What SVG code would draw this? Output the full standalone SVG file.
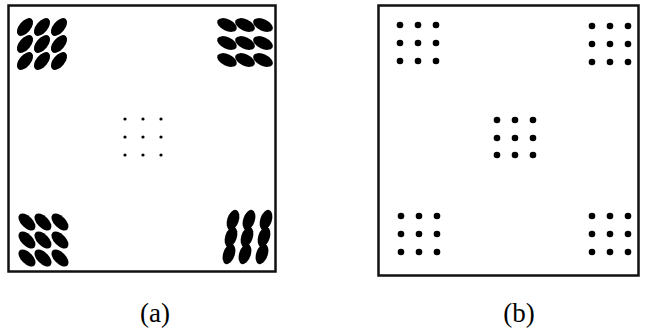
<svg xmlns="http://www.w3.org/2000/svg" width="646" height="333" viewBox="0 0 646 333">
<style>
.frame{fill:none;stroke:#111;stroke-width:2.5}
.e{fill:#000}
.s{fill:#000}
.b{fill:#000}
.lbl{font-family:"Liberation Serif",serif;font-size:27px;fill:#000}
</style>
<defs>
<ellipse id="el" cx="0" cy="0" rx="10.5" ry="5.8"/>
</defs>
<rect width="646" height="333" fill="#fff"/>
<g id="panel-a">
<rect class="frame" x="8.5" y="5.5" width="267" height="266"/>
<g id="a-tl" class="e">
<g transform="translate(25,27) rotate(-50)"><use href="#el"/></g>
<g transform="translate(42,27) rotate(-50)"><use href="#el"/></g>
<g transform="translate(59,27) rotate(-50)"><use href="#el"/></g>
<g transform="translate(25,44) rotate(-50)"><use href="#el"/></g>
<g transform="translate(42,44) rotate(-50)"><use href="#el"/></g>
<g transform="translate(59,44) rotate(-50)"><use href="#el"/></g>
<g transform="translate(25,61) rotate(-50)"><use href="#el"/></g>
<g transform="translate(42,61) rotate(-50)"><use href="#el"/></g>
<g transform="translate(59,61) rotate(-50)"><use href="#el"/></g>
</g>
<g id="a-tr" class="e">
<g transform="translate(227,25) rotate(25)"><use href="#el"/></g>
<g transform="translate(245,25) rotate(25)"><use href="#el"/></g>
<g transform="translate(263,25) rotate(25)"><use href="#el"/></g>
<g transform="translate(227,43) rotate(25)"><use href="#el"/></g>
<g transform="translate(245,43) rotate(25)"><use href="#el"/></g>
<g transform="translate(263,43) rotate(25)"><use href="#el"/></g>
<g transform="translate(227,60) rotate(25)"><use href="#el"/></g>
<g transform="translate(245,60) rotate(25)"><use href="#el"/></g>
<g transform="translate(263,60) rotate(25)"><use href="#el"/></g>
</g>
<g id="a-bl" class="e">
<g transform="translate(27,222) rotate(45)"><use href="#el"/></g>
<g transform="translate(43,222) rotate(45)"><use href="#el"/></g>
<g transform="translate(60,222) rotate(45)"><use href="#el"/></g>
<g transform="translate(27,240) rotate(45)"><use href="#el"/></g>
<g transform="translate(43,240) rotate(45)"><use href="#el"/></g>
<g transform="translate(60,240) rotate(45)"><use href="#el"/></g>
<g transform="translate(27,258) rotate(45)"><use href="#el"/></g>
<g transform="translate(43,258) rotate(45)"><use href="#el"/></g>
<g transform="translate(60,258) rotate(45)"><use href="#el"/></g>
</g>
<g id="a-br" class="e">
<g transform="translate(233,220) rotate(-72)"><use href="#el"/></g>
<g transform="translate(249,220) rotate(-72)"><use href="#el"/></g>
<g transform="translate(266,220) rotate(-72)"><use href="#el"/></g>
<g transform="translate(231,237) rotate(-72)"><use href="#el"/></g>
<g transform="translate(247,237) rotate(-72)"><use href="#el"/></g>
<g transform="translate(264,237) rotate(-72)"><use href="#el"/></g>
<g transform="translate(229,254) rotate(-72)"><use href="#el"/></g>
<g transform="translate(245,254) rotate(-72)"><use href="#el"/></g>
<g transform="translate(262,254) rotate(-72)"><use href="#el"/></g>
</g>
<g id="a-center" class="s">
<circle cx="125" cy="119" r="1.6"/><circle cx="143" cy="119" r="1.6"/><circle cx="161" cy="119" r="1.6"/>
<circle cx="125" cy="137" r="1.6"/><circle cx="143" cy="137" r="1.6"/><circle cx="161" cy="137" r="1.6"/>
<circle cx="125" cy="155" r="1.6"/><circle cx="143" cy="155" r="1.6"/><circle cx="161" cy="155" r="1.6"/>
</g>
<text class="lbl" x="155" y="322" text-anchor="middle">(a)</text>
</g>
<g id="panel-b">
<rect class="frame" x="378.5" y="5.5" width="260" height="270"/>
<g id="b-tl" class="b">
<circle cx="400" cy="25" r="3.3"/><circle cx="418" cy="25" r="3.3"/><circle cx="436" cy="25" r="3.3"/>
<circle cx="400" cy="43" r="3.3"/><circle cx="418" cy="43" r="3.3"/><circle cx="436" cy="43" r="3.3"/>
<circle cx="400" cy="61" r="3.3"/><circle cx="418" cy="61" r="3.3"/><circle cx="436" cy="61" r="3.3"/>
</g>
<g id="b-tr" class="b">
<circle cx="592" cy="26" r="3.3"/><circle cx="610" cy="26" r="3.3"/><circle cx="628" cy="26" r="3.3"/>
<circle cx="592" cy="44" r="3.3"/><circle cx="610" cy="44" r="3.3"/><circle cx="628" cy="44" r="3.3"/>
<circle cx="592" cy="62" r="3.3"/><circle cx="610" cy="62" r="3.3"/><circle cx="628" cy="62" r="3.3"/>
</g>
<g id="b-center" class="b">
<circle cx="497" cy="120" r="3.3"/><circle cx="515" cy="120" r="3.3"/><circle cx="533" cy="120" r="3.3"/>
<circle cx="497" cy="138" r="3.3"/><circle cx="515" cy="138" r="3.3"/><circle cx="533" cy="138" r="3.3"/>
<circle cx="497" cy="155" r="3.3"/><circle cx="515" cy="155" r="3.3"/><circle cx="533" cy="155" r="3.3"/>
</g>
<g id="b-bl" class="b">
<circle cx="401" cy="216" r="3.3"/><circle cx="419" cy="216" r="3.3"/><circle cx="437" cy="216" r="3.3"/>
<circle cx="401" cy="234" r="3.3"/><circle cx="419" cy="234" r="3.3"/><circle cx="437" cy="234" r="3.3"/>
<circle cx="401" cy="252" r="3.3"/><circle cx="419" cy="252" r="3.3"/><circle cx="437" cy="252" r="3.3"/>
</g>
<g id="b-br" class="b">
<circle cx="592" cy="216" r="3.3"/><circle cx="610" cy="216" r="3.3"/><circle cx="628" cy="216" r="3.3"/>
<circle cx="592" cy="234" r="3.3"/><circle cx="610" cy="234" r="3.3"/><circle cx="628" cy="234" r="3.3"/>
<circle cx="592" cy="252" r="3.3"/><circle cx="610" cy="252" r="3.3"/><circle cx="628" cy="252" r="3.3"/>
</g>
<text class="lbl" x="519" y="322" text-anchor="middle">(b)</text>
</g>
</svg>
